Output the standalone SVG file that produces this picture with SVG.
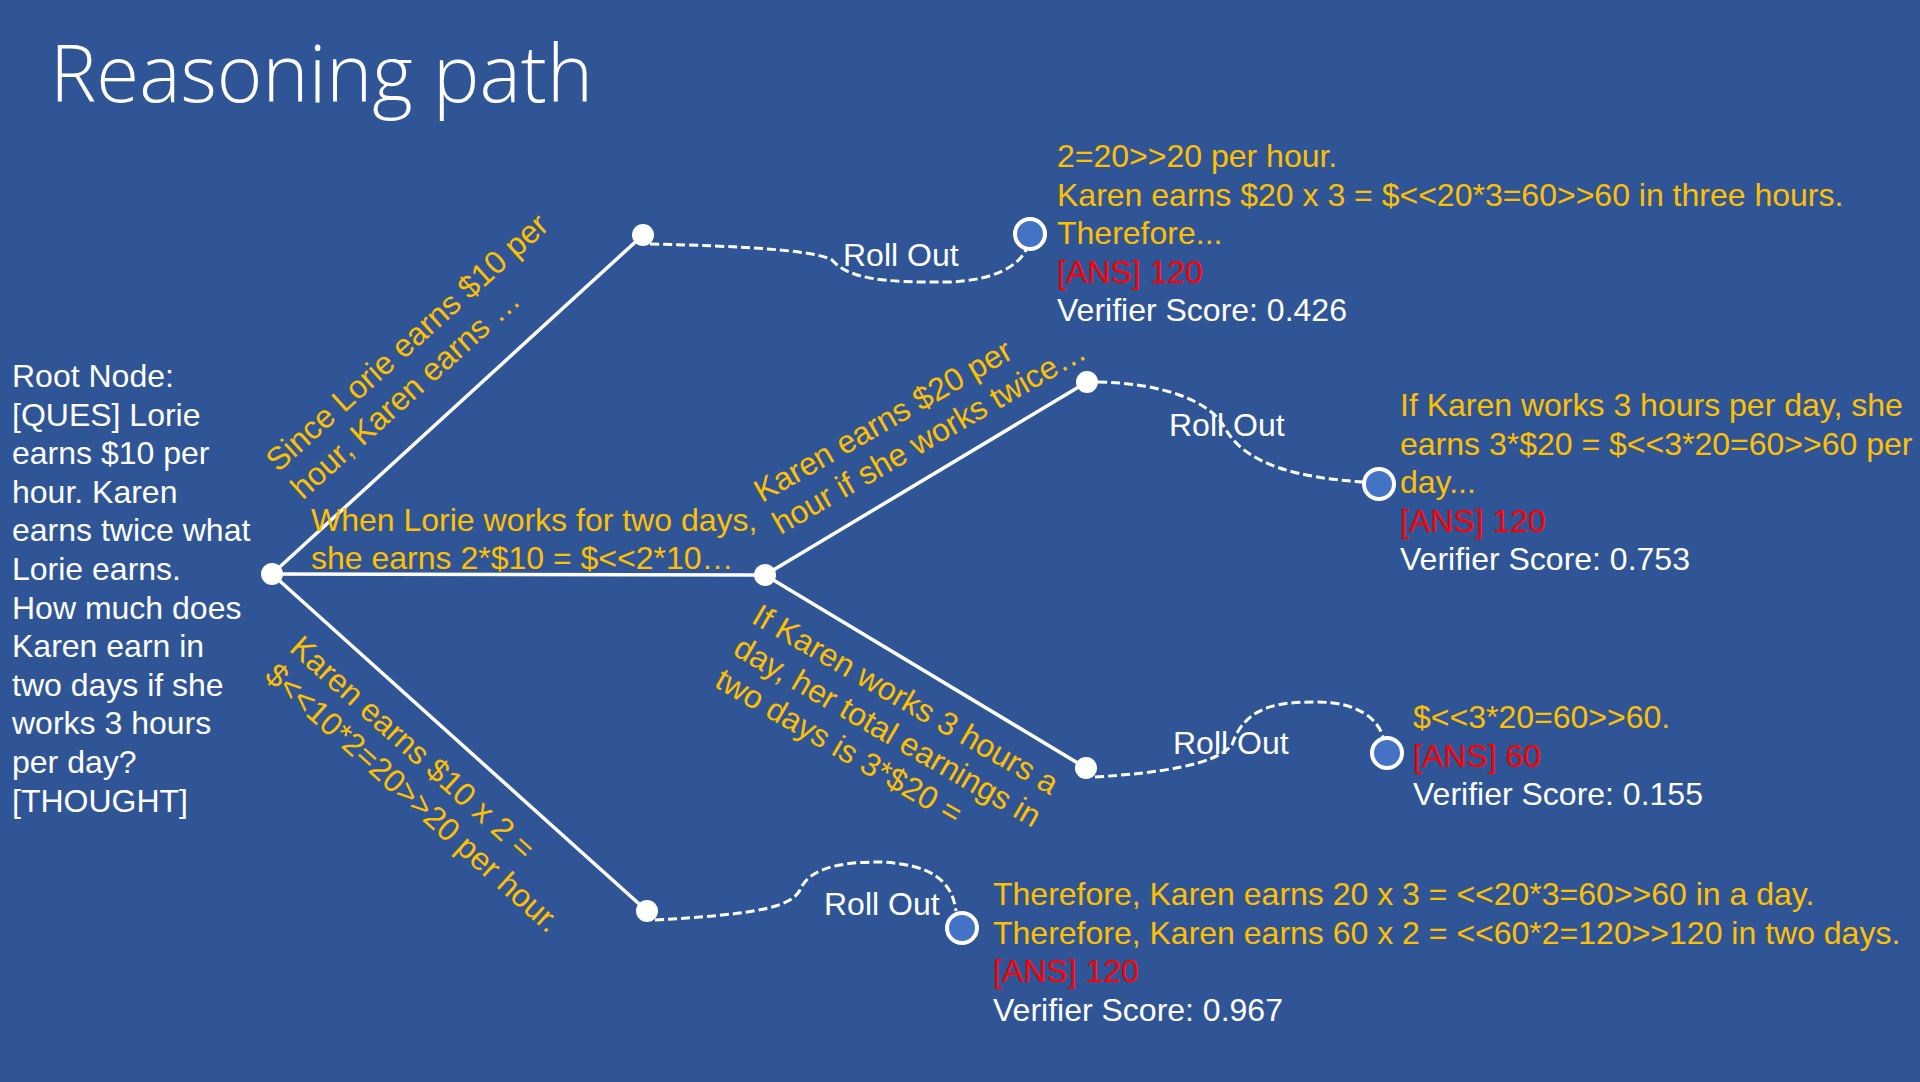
<svg xmlns="http://www.w3.org/2000/svg" width="1920" height="1082" viewBox="0 0 1920 1082">
<style>
.t{font-family:"Liberation Sans",Arial,sans-serif;font-size:32px;}
.w{fill:#FFFFFF;}
.y{fill:#FFC000;}
.r{fill:#FF0000;}
.edge{stroke:#FFFFFF;stroke-width:3.5;fill:none;stroke-linecap:round;}
.roll{stroke:#FFFFFF;stroke-width:3;fill:none;stroke-dasharray:9 4;}
.dot{fill:#FFFFFF;}
.leaf{fill:#4472C4;stroke:#FFFFFF;stroke-width:4;}
</style>
<rect x="0" y="0" width="1920" height="1082" fill="#2F5597"/>
<text x="50" y="102" font-family="'Open Sans','Noto Sans',sans-serif" font-weight="300" font-size="80" fill="#FFFFFF" textLength="543" lengthAdjust="spacingAndGlyphs">Reasoning path</text>

<g id="connectors">
  <line class="edge" x1="272" y1="574" x2="643" y2="235"/>
  <line class="edge" x1="272" y1="574" x2="765" y2="575"/>
  <line class="edge" x1="272" y1="574" x2="647" y2="911"/>
  <line class="edge" x1="765" y1="575" x2="1087" y2="382"/>
  <line class="edge" x1="765" y1="575" x2="1086" y2="768"/>
  <path class="roll" d="M 650 244 C 740 246, 815 250, 832 260 C 848 278, 880 283, 950 282 C 995 280, 1018 266, 1026 250"/>
  <path class="roll" d="M 1098 382 C 1160 383, 1210 400, 1225 428 C 1245 465, 1300 478, 1363 482"/>
  <path class="roll" d="M 1095 777 C 1160 773, 1215 765, 1232 745 C 1245 705, 1280 702, 1316 702 C 1360 702, 1378 720, 1383 737"/>
  <path class="roll" d="M 655 920 C 740 915, 790 910, 800 890 C 810 865, 850 862, 880 862 C 930 864, 952 880, 956 911"/>
  <g id="edge-labels">
    <text class="t y" transform="translate(278,473) rotate(-42)"><tspan x="0" y="0">Since Lorie earns $10 per</tspan><tspan x="0" y="37">hour, Karen earns …</tspan></text>
    <text class="t y"><tspan x="311" y="531">When Lorie works for two days,</tspan><tspan x="311" y="569">she earns 2*$10 = $&lt;&lt;2*10…</tspan></text>
    <text class="t y" transform="translate(762,503) rotate(-30)"><tspan x="0" y="0">Karen earns $20 per</tspan><tspan x="0" y="37">hour if she works twice…</tspan></text>
    <text class="t y" transform="translate(750,622) rotate(30)"><tspan x="0" y="0">If Karen works 3 hours a</tspan><tspan x="0" y="37">day, her total earnings in</tspan><tspan x="0" y="74">two days is 3*$20 =</tspan></text>
    <text class="t y" transform="translate(288,650) rotate(42)"><tspan x="0" y="0">Karen earns $10 x 2 =</tspan><tspan x="0" y="37">$&lt;&lt;10*2=20&gt;&gt;20 per hour.</tspan></text>
    <text class="t w" x="843" y="266">Roll Out</text>
    <text class="t w" x="1169" y="436">Roll Out</text>
    <text class="t w" x="1173" y="754">Roll Out</text>
    <text class="t w" x="824" y="915">Roll Out</text>
  </g>
</g>

<g id="root">
  <circle class="dot" cx="272" cy="574" r="11"/>
  <text class="t w">
    <tspan x="12" y="387">Root Node:</tspan>
    <tspan x="12" y="425.6">[QUES] Lorie</tspan>
    <tspan x="12" y="464.2">earns $10 per</tspan>
    <tspan x="12" y="502.8">hour. Karen</tspan>
    <tspan x="12" y="541.4">earns twice what</tspan>
    <tspan x="12" y="580">Lorie earns.</tspan>
    <tspan x="12" y="618.6">How much does</tspan>
    <tspan x="12" y="657.2">Karen earn in</tspan>
    <tspan x="12" y="695.8">two days if she</tspan>
    <tspan x="12" y="734.4">works 3 hours</tspan>
    <tspan x="12" y="773">per day?</tspan>
    <tspan x="12" y="811.6">[THOUGHT]</tspan>
  </text>
</g>

<g id="step-a"><circle class="dot" cx="643" cy="235" r="11"/></g>
<g id="step-b"><circle class="dot" cx="765" cy="575" r="11"/></g>
<g id="step-c"><circle class="dot" cx="647" cy="911" r="11"/></g>
<g id="step-b1"><circle class="dot" cx="1087" cy="382" r="11"/></g>
<g id="step-b2"><circle class="dot" cx="1086" cy="768" r="11"/></g>

<g id="leaf-a">
  <circle class="leaf" cx="1030" cy="234" r="15"/>
  <text class="t"><tspan class="y" x="1057" y="167">2=20&gt;&gt;20 per hour.</tspan><tspan class="y" x="1057" y="205.5">Karen earns $20 x 3 = $&lt;&lt;20*3=60&gt;&gt;60 in three hours.</tspan><tspan class="y" x="1057" y="244">Therefore...</tspan><tspan class="r" x="1057" y="282.5">[ANS] 120</tspan><tspan class="w" x="1057" y="321">Verifier Score: 0.426</tspan></text>
</g>

<g id="leaf-b1">
  <circle class="leaf" cx="1379" cy="484" r="15"/>
  <text class="t"><tspan class="y" x="1400" y="416">If Karen works 3 hours per day, she</tspan><tspan class="y" x="1400" y="454.5">earns 3*$20 = $&lt;&lt;3*20=60&gt;&gt;60 per</tspan><tspan class="y" x="1400" y="493">day...</tspan><tspan class="r" x="1400" y="531.5">[ANS] 120</tspan><tspan class="w" x="1400" y="570">Verifier Score: 0.753</tspan></text>
</g>

<g id="leaf-b2">
  <circle class="leaf" cx="1387" cy="753" r="15"/>
  <text class="t"><tspan class="y" x="1413" y="728">$&lt;&lt;3*20=60&gt;&gt;60.</tspan><tspan class="r" x="1413" y="766.5">[ANS] 60</tspan><tspan class="w" x="1413" y="805">Verifier Score: 0.155</tspan></text>
</g>

<g id="leaf-c">
  <circle class="leaf" cx="962" cy="928" r="15"/>
  <text class="t"><tspan class="y" x="993" y="905">Therefore, Karen earns 20 x 3 = &lt;&lt;20*3=60&gt;&gt;60 in a day.</tspan><tspan class="y" x="993" y="943.5">Therefore, Karen earns 60 x 2 = &lt;&lt;60*2=120&gt;&gt;120 in two days.</tspan><tspan class="r" x="993" y="982">[ANS] 120</tspan><tspan class="w" x="993" y="1020.5">Verifier Score: 0.967</tspan></text>
</g>
</svg>
